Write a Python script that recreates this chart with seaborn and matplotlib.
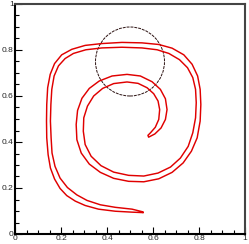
import numpy as np
import pandas as pd
import matplotlib
matplotlib.use('Agg')
import matplotlib.pyplot as plt
from matplotlib.patches import Circle
from matplotlib.ticker import MultipleLocator
import seaborn as sns

# outer edge of the deformed band, tail -> tip
outer_x = [0.557, 0.509, 0.436, 0.363, 0.305, 0.262, 0.225, 0.196, 0.172, 0.154, 0.144,
           0.138, 0.137, 0.138, 0.142, 0.153, 0.172, 0.203, 0.247, 0.305, 0.378, 0.465,
           0.552, 0.625, 0.683, 0.734, 0.770, 0.794, 0.805, 0.808, 0.805, 0.792, 0.767,
           0.731, 0.683, 0.625, 0.560, 0.494, 0.429, 0.371, 0.323, 0.288, 0.269, 0.266,
           0.272, 0.291, 0.323, 0.366, 0.422, 0.487, 0.545, 0.596, 0.632, 0.654, 0.661,
           0.654, 0.635, 0.608, 0.581]
outer_y = [0.093, 0.095, 0.099, 0.108, 0.124, 0.143, 0.167, 0.198, 0.239, 0.287, 0.345,
           0.418, 0.491, 0.563, 0.636, 0.694, 0.741, 0.779, 0.803, 0.820, 0.828, 0.833,
           0.831, 0.824, 0.808, 0.779, 0.738, 0.687, 0.629, 0.563, 0.491, 0.418, 0.360,
           0.309, 0.268, 0.240, 0.227, 0.229, 0.242, 0.268, 0.304, 0.352, 0.410, 0.476,
           0.537, 0.590, 0.633, 0.665, 0.687, 0.694, 0.687, 0.662, 0.629, 0.588, 0.541,
           0.498, 0.461, 0.435, 0.421]

# inner edge of the band, tip -> tail
inner_x = [0.578, 0.589, 0.610, 0.625, 0.629, 0.622, 0.603, 0.574, 0.535, 0.487, 0.429,
           0.381, 0.342, 0.315, 0.299, 0.297, 0.305, 0.331, 0.374, 0.429, 0.494, 0.560,
           0.622, 0.676, 0.719, 0.753, 0.773, 0.785, 0.788, 0.785, 0.773, 0.750, 0.715,
           0.669, 0.618, 0.552, 0.465, 0.378, 0.308, 0.254, 0.218, 0.189, 0.170, 0.160,
           0.156, 0.154, 0.157, 0.161, 0.174, 0.196, 0.228, 0.269, 0.313, 0.371, 0.436,
           0.509, 0.557]
inner_y = [0.429, 0.440, 0.464, 0.498, 0.541, 0.578, 0.610, 0.636, 0.655, 0.661, 0.654,
           0.633, 0.600, 0.556, 0.505, 0.447, 0.389, 0.338, 0.297, 0.269, 0.255, 0.252,
           0.265, 0.291, 0.330, 0.381, 0.440, 0.505, 0.571, 0.629, 0.680, 0.723, 0.758,
           0.785, 0.801, 0.809, 0.812, 0.809, 0.801, 0.785, 0.763, 0.731, 0.687, 0.629,
           0.563, 0.491, 0.418, 0.352, 0.294, 0.243, 0.202, 0.170, 0.146, 0.127, 0.116,
           0.108, 0.096]

circle_center = (0.5, 0.75)
circle_radius = 0.15

sns.set_style('white')
plt.rcParams['font.family'] = ['Liberation Sans', 'DejaVu Sans']

fig = plt.figure(figsize=(2.49, 2.44), dpi=100)
ax = fig.add_axes([15 / 249, 10 / 244, 230 / 249, 230 / 244])

band = pd.DataFrame({
    'x': outer_x + inner_x + outer_x[:1],
    'y': outer_y + inner_y + outer_y[:1],
})
sns.lineplot(data=band, x='x', y='y', sort=False, estimator=None,
             color='#e00000', linewidth=1.05, ax=ax)

# initial circle, dashed
ax.add_patch(Circle(circle_center, circle_radius, fill=False, edgecolor='#2a1010',
                    linewidth=0.7, linestyle=(0, (3, 1))))

ax.set_xlim(0, 1)
ax.set_ylim(0, 1)
ax.set_xlabel('')
ax.set_ylabel('')
ax.xaxis.set_major_locator(MultipleLocator(0.2))
ax.yaxis.set_major_locator(MultipleLocator(0.2))
ax.xaxis.set_minor_locator(MultipleLocator(0.05))
ax.yaxis.set_minor_locator(MultipleLocator(0.05))
ax.xaxis.set_major_formatter(lambda v, p: f'{v:g}')
ax.yaxis.set_major_formatter(lambda v, p: f'{v:g}')
ax.tick_params(which='both', direction='in', bottom=True, left=True, top=False, right=False,
               labelsize=6, pad=1, color='black', width=0.8)
ax.tick_params(which='major', length=5)
ax.tick_params(which='minor', length=3)

for side in ['left', 'bottom']:
    ax.spines[side].set_color('black')
    ax.spines[side].set_linewidth(1.5)
for side in ['top', 'right']:
    ax.spines[side].set_color('#444444')
    ax.spines[side].set_linewidth(1.5)

fig.savefig('out.png', dpi=100)
